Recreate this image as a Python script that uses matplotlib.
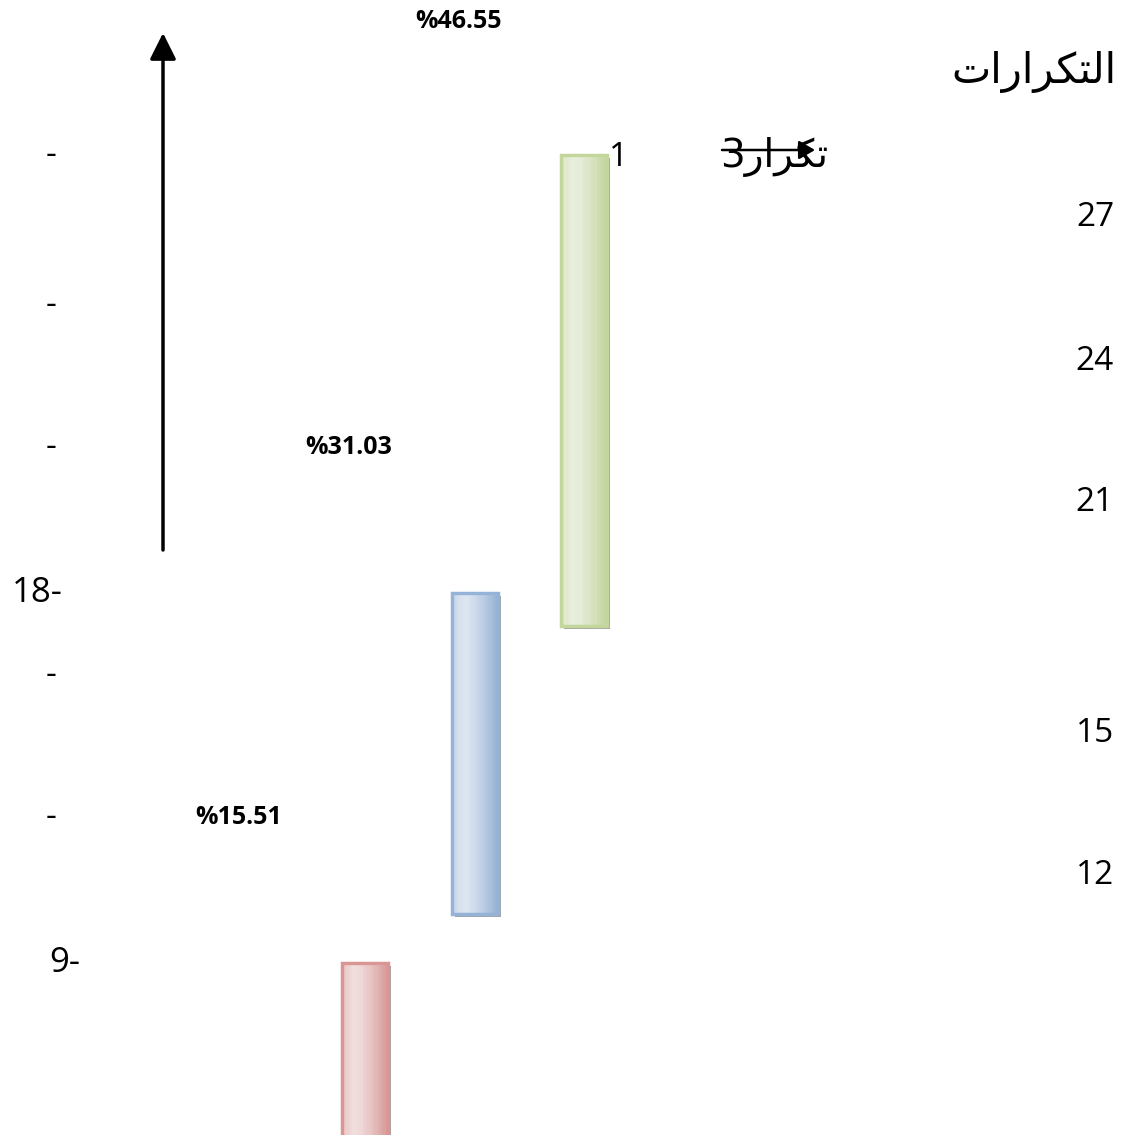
import numpy as np
import matplotlib
matplotlib.use("Agg")
import matplotlib.pyplot as plt
import matplotlib.patheffects as pe
from matplotlib.colors import to_rgb

W, H = 1124, 1135

# frequencies per class and their share of the total (in %)
freqs = [9, 18, 27]
bar_base = [5, 10, 16.8]
pct_labels = ["%15.51", "%31.03", "%46.55"]
bar_dark = ["#d99694", "#95b3d7", "#c3d69b"]
bar_light = ["#f4e1e0", "#dfe8f4", "#ecf2e0"]

left_ticks = [27, 24, 21, 18, 15, 12, 9]
left_tick_text = ["-", "-", "-", "18-", "-", "-", "9-"]
right_labels = ["27", "24", "21", "15", "12"]
right_label_rows = [218, 362, 503, 733, 875]
y_title = "\ufe95\ufe8d\ufead\ufe8d\ufeae\ufedc\ufe98\ufedf\ufe8d"   # التكرارات
legend_text = "3\ufead\ufe8d\ufeae\ufedc\ufe97"                      # تكرار3

# the vertical axis is drawn with uneven spacing (15 -> 18 is squeezed)
grid_vals = [0, 9, 12, 15, 18, 21, 24, 27, 33]
grid_rows = [1401, 963, 817, 676, 593, 447, 305, 155, -112]
grid_pos = [H - r for r in grid_rows]


def fwd(v):
    return np.interp(v, grid_vals, grid_pos)


def inv(p):
    return np.interp(p, grid_pos, grid_vals)


fig = plt.figure(figsize=(W / 100, H / 100), dpi=100)
ax = fig.add_axes([0, 0, 1, 1])
ax.set_yscale("function", functions=(fwd, inv))
ax.set_ylim(inv(0), inv(H))
x0, step = 365, 109.5
ax.set_xlim(-x0 / step, (W - x0) / step)
ax.axis("off")

xs = np.arange(len(freqs))
width = 46 / step
n = 40
for x, top, base, dark, light in zip(xs, freqs, bar_base, bar_dark, bar_light):
    d, l = np.array(to_rgb(dark)), np.array(to_rgb(light))
    # soft grey shadow under the bar
    ax.bar(x, top - base, width, bottom=base, color=dark, linewidth=0, zorder=1,
           path_effects=[pe.SimplePatchShadow(offset=(2.2, -2.2), shadow_rgbFace="#8c8c8c", alpha=0.8)])
    # horizontal gradient built from thin strips
    for i in range(n):
        t = (i + 0.5) / n
        if t < 0.3:
            f = 0.45 * ((0.3 - t) / 0.3) ** 2
        else:
            f = ((t - 0.3) / 0.7) ** 1.3
        c = l + (d - l) * f
        ax.bar(x - width / 2 + (i + 0.5) * width / n, top - base, width / n,
               bottom=base, color=c, edgecolor=c, linewidth=0.4, zorder=2)
    ax.bar(x, top - base, width, bottom=base, color="none", edgecolor=dark,
           linewidth=2.5, zorder=3)

for x, top, lab in zip(xs, freqs, pct_labels):
    ax.text(x - 1.15, top + 3, lab, ha="center", va="center", fontsize=18,
            fontweight="bold", family="Open Sans", zorder=5)

ytr = ax.get_yaxis_transform()
for v, lab in zip(left_ticks, left_tick_text):
    if lab == "-":
        ax.text(51 / W, v, lab, transform=ytr, ha="center", va="center",
                fontsize=24, family="Open Sans")
    elif lab == "18-":
        ax.text(12 / W, v, lab, transform=ytr, ha="left", va="center",
                fontsize=25, family="Open Sans")
    else:
        ax.text(80 / W, v, lab, transform=ytr, ha="right", va="center",
                fontsize=25, family="Open Sans")


def fpx(x, y):
    return x / W, 1 - y / H


for lab, row in zip(right_labels, right_label_rows):
    fig.text(*fpx(1114, row), lab, ha="right", va="center", fontsize=24, family="Open Sans")

fig.text(*fpx(1117, 72), y_title, ha="right", va="center", fontsize=30, family="DejaVu Sans")
fig.text(*fpx(619, 157), "1", ha="center", va="center", fontsize=24, family="Open Sans")
fig.text(*fpx(720, 157), legend_text, ha="left", va="center", fontsize=28, family="DejaVu Sans")

# vertical arrow beside the axis labels
ax.annotate("", xy=(163, H - 33), xycoords="figure pixels",
            xytext=(163, H - 550), textcoords="figure pixels",
            arrowprops=dict(arrowstyle="-|>,head_length=0.8,head_width=0.4",
                            lw=2.5, color="black", mutation_scale=20, shrinkA=0, shrinkB=0))
# short line with arrowhead through the legend entry
ax.annotate("", xy=(815, H - 150), xycoords="figure pixels",
            xytext=(722, H - 150), textcoords="figure pixels",
            arrowprops=dict(arrowstyle="-|>,head_length=0.6,head_width=0.35",
                            lw=1.8, color="black", mutation_scale=16, shrinkA=0, shrinkB=0))

fig.savefig("out.png", dpi=100)
